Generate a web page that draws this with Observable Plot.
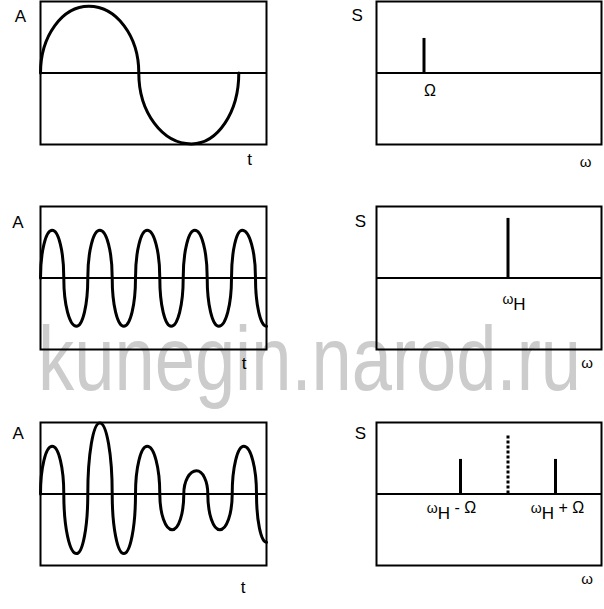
<!DOCTYPE html>
<html><head><meta charset="utf-8">
<script src="https://cdn.jsdelivr.net/npm/d3@7"></script>
<script src="https://cdn.jsdelivr.net/npm/@observablehq/plot@0.6"></script>
<style>
html,body{margin:0;padding:0;background:#fff;}
#root{position:relative;width:604px;height:609px;overflow:hidden;font-family:"Liberation Sans",Arial,sans-serif;}
#root svg{position:absolute;}
</style></head><body><div id="root"></div>
<script>
// ---------------- data ----------------
// Modulating signal: zero crossings and extremes (t, A)
const sineT = [0, 48.3, 98.3, 151, 198.3];
const sineA = [0, 1.12, 0, -1.19, 0];
// Carrier: zero crossings and extremes
const carrierT = [0, 11.7, 23.3, 36, 47.3, 59.3, 71.7, 83.3, 95, 106.7, 119.3, 130.7, 142.7, 154.3, 166.7, 178.3, 191, 201.7, 215, 226];
const carrierA = [0, 0.8, 0, -0.81, 0, 0.8, 0, -0.81, 0, 0.8, 0, -0.81, 0, 0.8, 0, -0.81, 0, 0.8, 0, -0.81];
// Modulated signal: zero crossings and extremes
const amT = [0, 11.7, 23.3, 36, 47.3, 59.3, 71.7, 83.3, 95, 106.7, 119.3, 131.7, 143.3, 156, 167.3, 179.3, 191.7, 203.3, 216, 226];
const amA = [0, 0.8, 0, -1.0, 0, 1.19, 0, -1.0, 0, 0.8, 0, -0.6, 0, 0.39, 0, -0.6, 0, 0.8, 0, -0.81];
// Spectra (ω, S)
const spec1W = [47.5], spec1S = [0.58];
const spec2W = [131.5], spec2S = [1.0];
const sideW = [84, 179], sideS = [0.58, 0.58];
const suppW = [131.5], suppS = [1.0];
const tDomain = [0, 226], wDomain = [0, 225], aDomain = [-1.2, 1.2];
const labelA = "A", labelS = "S", labelT = "t", labelW = "ω";
const spec1Labels = ["Ω"], spec2Labels = ["ωH"], spec3Labels = ["ωH - Ω", "ωH + Ω"];
const watermark = "kunegin.narod.ru";

// ---------------- helpers ----------------
const zip = (xs, ys, kx, ky) => xs.map((x, i) => ({[kx]: x, [ky]: ys[i]}));
// quarter-ellipse curve through alternating zero-crossing / extreme points
function curveEllipse(context) {
  let pts = [];
  return {
    areaStart() {}, areaEnd() {},
    lineStart() { pts = []; },
    point(x, y) { pts.push([+x, +y]); },
    lineEnd() {
      if (!pts.length) return;
      const k = 0.5523;
      context.moveTo(pts[0][0], pts[0][1]);
      for (let i = 1; i < pts.length; i++) {
        const [x0, y0] = pts[i - 1], [x1, y1] = pts[i];
        if (i % 2 === 1) context.bezierCurveTo(x0, y0 + k * (y1 - y0), x1 - k * (x1 - x0), y1, x1, y1);
        else context.bezierCurveTo(x0 + k * (x1 - x0), y0, x1, y1 - k * (y1 - y0), x1, y1);
      }
    }
  };
}
const root = document.getElementById("root");
const FONT = "Liberation Sans, Arial, sans-serif";

// watermark (behind everything)
{
  const ns = "http://www.w3.org/2000/svg";
  const s = document.createElementNS(ns, "svg");
  s.setAttribute("width", 604); s.setAttribute("height", 609);
  s.style.left = "0px"; s.style.top = "0px";
  const t = document.createElementNS(ns, "text");
  t.setAttribute("x", 38); t.setAttribute("y", 390);
  t.setAttribute("font-family", "Liberation Sans Narrow, Liberation Sans, Arial, sans-serif");
  t.setAttribute("font-size", 90);
  t.setAttribute("fill", "#cccccc");
  t.setAttribute("textLength", 543);
  t.setAttribute("lengthAdjust", "spacingAndGlyphs");
  t.textContent = watermark;
  s.appendChild(t);
  root.appendChild(s);
}

const FRAME_H = 143, MT = 20, MB = 50;
function place(svg, left, frameTop) {
  svg.style.left = left + "px";
  svg.style.top = (frameTop - MT) + "px";
  root.appendChild(svg);
}
function base(ml, mr, xDomain, marks) {
  return Plot.plot({
    width: 300, height: MT + FRAME_H + MB,
    marginTop: MT, marginBottom: MB, marginLeft: ml, marginRight: mr,
    x: {domain: xDomain, axis: null},
    y: {domain: aDomain, axis: null},
    style: {background: "transparent", overflow: "visible", fontFamily: FONT},
    marks
  });
}
function label(txt, anchor, dx, dy, size) {
  return Plot.text([txt], {text: d => d, frameAnchor: anchor, dx, dy, textAnchor: "middle", lineAnchor: "middle", fontSize: size, fill: "black"});
}
function leftPanel(frameTop, T, A, aOff, tOff) {
  const data = zip(T, A, "t", "a");
  const svg = base(40, 34, tDomain, [
    Plot.ruleY([0], {stroke: "black", strokeWidth: 2}),
    Plot.line(data, {x: "t", y: "a", curve: curveEllipse, stroke: "black", strokeWidth: 3}),
    Plot.frame({stroke: "black", strokeWidth: 2}),
    label(labelA, "top-left", aOff[0], aOff[1], 17),
    label(labelT, "bottom-right", tOff[0], tOff[1], 17)
  ]);
  place(svg, 0, frameTop);
}
function specLabel(txt, w, dx, dy) {
  return Plot.text([{w, txt}], {x: "w", y: () => 0, text: "txt", dx, dy, textAnchor: "middle", lineAnchor: "middle", fontSize: 16, fill: "black"});
}
function rightPanel(frameTop, spikes, dotted, labels, sOff, wOff) {
  const marks = [
    Plot.ruleY([0], {stroke: "black", strokeWidth: 2}),
    Plot.ruleX(spikes, {x: "w", y1: 0, y2: "s", stroke: "black", strokeWidth: 3})
  ];
  if (dotted) marks.push(Plot.ruleX(dotted, {x: "w", y1: 0, y2: "s", stroke: "black", strokeWidth: 3, strokeDasharray: "3,2"}));
  marks.push(Plot.frame({stroke: "black", strokeWidth: 2}));
  marks.push(...labels);
  marks.push(label(labelS, "top-left", sOff[0], sOff[1], 17));
  marks.push(label(labelW, "bottom-right", wOff[0], wOff[1], 15));
  const svg = base(72, 3, wDomain, marks);
  // subscript H in ωH
  svg.querySelectorAll("text").forEach(t => {
    const s = t.textContent, i = s.indexOf("ωH");
    if (i < 0) return;
    const rest = s.slice(i + 2);
    while (t.firstChild) t.removeChild(t.firstChild);
    const ns = "http://www.w3.org/2000/svg";
    const a = document.createElementNS(ns, "tspan"); a.setAttribute("font-size", 14); a.textContent = "ω"; t.appendChild(a);
    const b = document.createElementNS(ns, "tspan"); b.setAttribute("font-size", 17); b.setAttribute("dy", 6); b.textContent = "H"; t.appendChild(b);
    if (rest) { const c = document.createElementNS(ns, "tspan"); c.setAttribute("font-size", 16); c.setAttribute("dy", -6); c.textContent = rest; t.appendChild(c); }
  });
  place(svg, 304, frameTop);
}

// ---------------- panels ----------------
leftPanel(1, sineT, sineA, [-20, 15], [-17, 15]);
leftPanel(205.5, carrierT, carrierA, [-22.5, 16], [-22.5, 14.5]);
leftPanel(422, amT, amA, [-22.3, 11.3], [-23.3, 22.3]);

rightPanel(1, zip(spec1W, spec1S, "w", "s"), null,
  [specLabel(spec1Labels[0], spec1W[0], 6, 17.4)], [-19.3, 14], [-16, 18]);
rightPanel(205.5, zip(spec2W, spec2S, "w", "s"), null,
  [specLabel(spec2Labels[0], spec2W[0], 6, 20.6)], [-16, 15.2], [-14.3, 14]);
rightPanel(422, zip(sideW, sideS, "w", "s"), zip(suppW, suppS, "w", "s"),
  [specLabel(spec3Labels[0], sideW[0], -9, 13.5), specLabel(spec3Labels[1], sideW[1], 2, 13.5)], [-16, 11.3], [-14.3, 14]);
</script></body></html>
